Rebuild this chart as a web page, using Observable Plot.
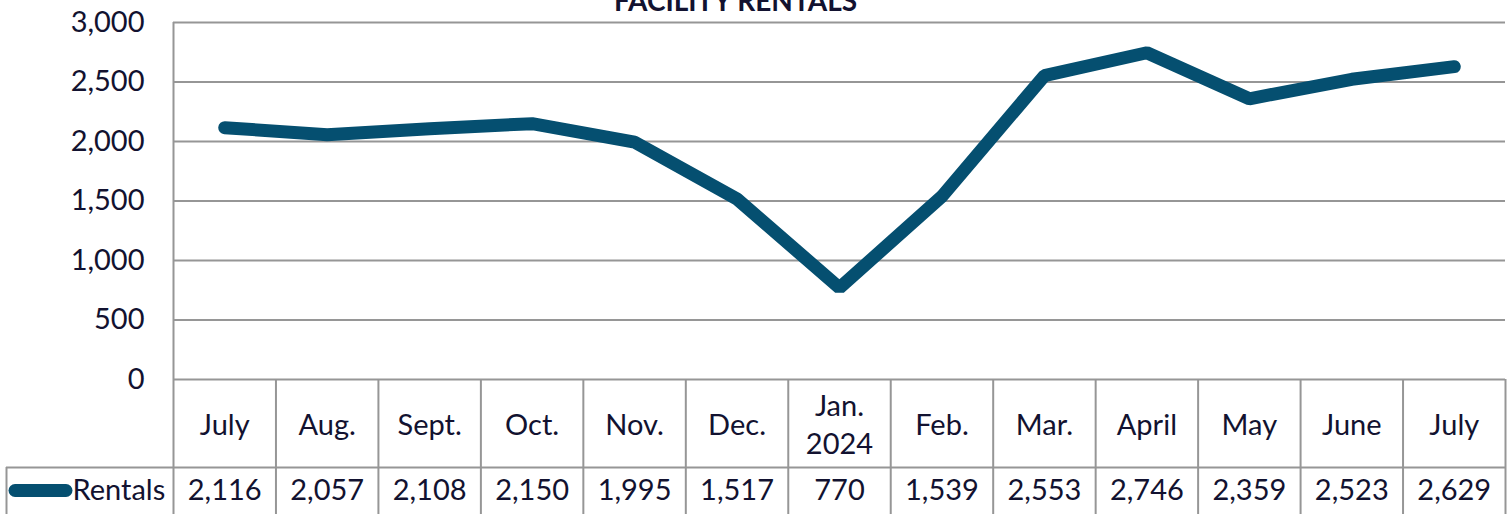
<!DOCTYPE html>
<html>
<head>
<meta charset="utf-8">
<script src="https://cdn.jsdelivr.net/npm/d3@7"></script>
<script src="https://cdn.jsdelivr.net/npm/@observablehq/plot@0.6"></script>
<style>
  html, body { margin: 0; padding: 0; background: white; }
  #chart { width: 1510px; height: 514px; overflow: hidden; }
</style>
</head>
<body>
<div id="chart"></div>
<script>
const title = "FACILITY RENTALS";
const seriesName = "Rentals";
const months = ["July", "Aug.", "Sept.", "Oct.", "Nov.", "Dec.", "Jan.\n2024", "Feb.", "Mar.", "April", "May", "June", "July"];
const rentals = [2116, 2057, 2108, 2150, 1995, 1517, 770, 1539, 2553, 2746, 2359, 2523, 2629];
const yTicks = [0, 500, 1000, 1500, 2000, 2500, 3000];

const data = months.map((m, i) => ({ i, month: m, value: rentals[i] }));
const boundaries = d3.range(1, months.length + 1);

const lineColor = "#054f70";
const gridColor = "#969696";
const fmt = d3.format(",");
const fs = 29;

const chart = Plot.plot({
  width: 1510,
  height: 514,
  marginLeft: 173,
  marginRight: 5,
  marginTop: 22,
  marginBottom: 135,
  style: { fontFamily: "Lato, 'Noto Sans', sans-serif", fontSize: fs + "px", color: "#121230", background: "white", overflow: "visible" },
  x: { type: "linear", domain: [0, months.length], axis: null },
  y: { domain: [0, 3000] },
  marks: [
    // gridlines
    Plot.ruleY(yTicks, { stroke: gridColor, strokeWidth: 2 }),
    // left axis line (extends through table)
    Plot.ruleX([0], { stroke: gridColor, strokeWidth: 2, insetBottom: -135 }),
    // table column boundaries
    Plot.ruleX(boundaries, { stroke: gridColor, strokeWidth: 2, insetTop: 357, insetBottom: -135 }),
    // row separator between header and values
    Plot.ruleY([0], { stroke: gridColor, strokeWidth: 2, dy: 88, insetLeft: -167 }),
    // legend cell left border
    Plot.ruleX([0], { stroke: gridColor, strokeWidth: 2, dx: -167, insetTop: 445, insetBottom: -135 }),
    // y axis labels
    Plot.axisY({ ticks: yTicks, tickFormat: fmt, tickSize: 0, tickPadding: 29, fontSize: fs, label: null }),
    // the line
    Plot.line(data, { x: d => d.i + 0.5, y: "value", stroke: lineColor, strokeWidth: 13, strokeLinecap: "round", strokeLinejoin: "miter" }),
    // category labels
    Plot.text(data, { x: d => d.i + 0.5, text: "month", frameAnchor: "bottom", dy: 43, lineAnchor: "middle", lineHeight: 1.33, fontSize: fs }),
    // values row
    Plot.text(data, { x: d => d.i + 0.5, text: d => fmt(d.value), frameAnchor: "bottom", dy: 111, lineAnchor: "middle", fontSize: fs }),
    // legend swatch
    Plot.ruleY([0], { stroke: lineColor, strokeWidth: 13, strokeLinecap: "round", dy: 111, insetLeft: -158, insetRight: 1439 }),
    // legend text
    Plot.text([seriesName], { x: 0, frameAnchor: "bottom", dx: -101, dy: 111, textAnchor: "start", lineAnchor: "middle", fontSize: fs }),
    // title
    Plot.text([title], { frameAnchor: "top", dx: -104, dy: -20, lineAnchor: "middle", fontSize: 28, fontWeight: "bold" })
  ]
});

document.getElementById("chart").appendChild(chart);
</script>
</body>
</html>
